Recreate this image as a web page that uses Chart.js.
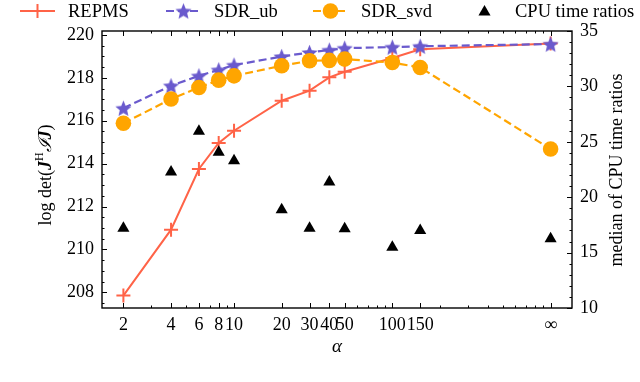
<!DOCTYPE html>
<html>
<head>
<meta charset="utf-8">
<script src="https://cdn.jsdelivr.net/npm/chart.js@4"></script>
<style>
  html, body { margin: 0; padding: 0; background: #fff; }
</style>
</head>
<body>
<canvas id="chart" width="640" height="382"></canvas>
<script>
// ── Data (1000 on the x axis stands for alpha = ∞) ──
const alphaValues = [2, 4, 6, 8, 10, 20, 30, 40, 50, 100, 150, 1000];
const alphaLabels = ['2', '4', '6', '8', '10', '20', '30', '40', '50', '100', '150', '∞'];
const repms    = [207.85, 210.92, 213.75, 214.96, 215.53, 216.93, 217.40, 218.02, 218.28, 218.92, 219.33, 219.60];
const sdrUb    = [216.58, 217.63, 218.09, 218.37, 218.59, 218.99, 219.18, 219.29, 219.38, 219.43, 219.47, 219.57];
const sdrSvd   = [215.88, 217.01, 217.55, 217.89, 218.09, 218.56, 218.79, 218.81, 218.87, 218.71, 218.48, 214.68];
const cpuRatio = [17.20, 22.27, 25.95, 24.05, 23.30, 18.86, 17.20, 21.37, 17.15, 15.49, 17.00, 16.24];
const leftTicks  = [208, 210, 212, 214, 216, 218, 220];
const rightTicks = [10, 15, 20, 25, 30, 35];

const RED = '#FF6347', BLUE = '#6A5ACD', ORANGE = '#FFA500';
const FONT = 'Liberation Serif, DejaVu Serif, serif';

// ── Log x ticks: one per 1..9 step of each decade, plus the labelled alphas ──
const xTickValues = [];
[1, 10, 100].forEach(d => {
    for (let k = 1; k <= 9; k++) if (k * d >= 2) xTickValues.push(k * d);
});
xTickValues.push(1000);
alphaValues.forEach(v => { if (!xTickValues.includes(v)) xTickValues.push(v); });
xTickValues.sort((a, b) => a - b);

// ── Filled five-point star marker ──
function makeStar(r, color) {
    const c = document.createElement('canvas');
    const s = Math.ceil(r * 2 + 2);
    c.width = s; c.height = s;
    const g = c.getContext('2d');
    g.fillStyle = color;
    g.beginPath();
    for (let i = 0; i < 10; i++) {
        const rr = i % 2 ? r * 0.45 : r;
        const a = -Math.PI / 2 + i * Math.PI / 5;
        g.lineTo(s / 2 + rr * Math.cos(a), s / 2 + rr * Math.sin(a) + 0.8);
    }
    g.closePath();
    g.fill();
    return c;
}
const starImg = makeStar(8.5, BLUE);

const pts = ys => alphaValues.map((x, i) => ({ x, y: ys[i] }));

// ── Marker for the hand drawn legend ──
function drawMarker(ctx, kind, x, y) {
    ctx.save();
    if (kind === 'cross') {
        ctx.strokeStyle = RED; ctx.lineWidth = 2;
        ctx.beginPath();
        ctx.moveTo(x - 7, y); ctx.lineTo(x + 7, y);
        ctx.moveTo(x, y - 7); ctx.lineTo(x, y + 7);
        ctx.stroke();
    } else if (kind === 'star') {
        ctx.drawImage(starImg, x - starImg.width / 2, y - starImg.height / 2);
    } else if (kind === 'circle') {
        ctx.fillStyle = ORANGE;
        ctx.beginPath(); ctx.arc(x, y, 7.8, 0, Math.PI * 2); ctx.fill();
    } else {
        ctx.fillStyle = '#000';
        ctx.beginPath();
        for (let i = 0; i < 3; i++) {
            const a = -Math.PI / 2 + i * 2 * Math.PI / 3;
            ctx.lineTo(x + 7 * Math.cos(a), y + 7 * Math.sin(a) + 1);
        }
        ctx.closePath(); ctx.fill();
    }
    ctx.restore();
}

// ── Frame, inward ticks, titles and legend ──
const decorPlugin = {
    id: 'decor',
    afterDraw(chart) {
        const { ctx, chartArea: a, scales } = chart;
        ctx.save();
        ctx.strokeStyle = '#000';
        ctx.lineWidth = 1;
        ctx.beginPath();
        xTickValues.forEach(v => {
            const px = Math.round(scales.x.getPixelForValue(v)) + 0.5;
            const len = alphaValues.includes(v) ? 5 : 2.5;
            ctx.moveTo(px, a.bottom); ctx.lineTo(px, a.bottom - len);
            ctx.moveTo(px, a.top); ctx.lineTo(px, a.top + len);
        });
        for (let v = 207.5; v <= 220; v += 0.5) {
            const py = Math.round(scales.y.getPixelForValue(v)) + 0.5;
            const len = leftTicks.includes(v) ? 5 : 2.5;
            ctx.moveTo(a.left, py); ctx.lineTo(a.left + len, py);
        }
        for (let v = 10; v <= 35; v += 1) {
            const py = Math.round(scales.y1.getPixelForValue(v)) + 0.5;
            const len = rightTicks.includes(v) ? 5 : 2.5;
            ctx.moveTo(a.right, py); ctx.lineTo(a.right - len, py);
        }
        ctx.stroke();
        ctx.lineWidth = 1.4;
        ctx.strokeRect(a.left, a.top, a.right - a.left, a.bottom - a.top);

        // axis titles
        ctx.fillStyle = '#000';
        ctx.textBaseline = 'middle';
        ctx.textAlign = 'center';
        ctx.font = 'italic 19px ' + FONT;
        ctx.fillText('α', (a.left + a.right) / 2, 347);

        ctx.save();
        ctx.translate(617, 170);
        ctx.rotate(-Math.PI / 2);
        ctx.font = '18px ' + FONT;
        ctx.fillText('median of CPU time ratios', 0, 0);
        ctx.restore();

        const parts = [
            ['log det(', '18px ' + FONT, 0],
            ['J', 'bold italic 18px ' + FONT, 0],
            ['H', '12px ' + FONT, -6],
            ['ℐ', 'italic 18px DejaVu Serif, serif', 0],
            ['J', 'bold italic 18px ' + FONT, 0],
            [')', '18px ' + FONT, 0]
        ];
        ctx.save();
        ctx.translate(46, 175);
        ctx.rotate(-Math.PI / 2);
        ctx.textAlign = 'left';
        let total = 0;
        parts.forEach(p => { ctx.font = p[1]; total += ctx.measureText(p[0]).width; });
        let cx = -total / 2;
        parts.forEach(p => {
            ctx.font = p[1];
            ctx.fillText(p[0], cx, p[2]);
            cx += ctx.measureText(p[0]).width;
        });
        ctx.restore();

        // legend
        const items = [
            { text: 'REPMS', x: 20, color: RED, dash: [], marker: 'cross' },
            { text: 'SDR_ub', x: 166, color: BLUE, dash: [8, 4], marker: 'star' },
            { text: 'SDR_svd', x: 313, color: ORANGE, dash: [8, 4], marker: 'circle' },
            { text: 'CPU time ratios', x: 467, color: null, dash: [], marker: 'triangle' }
        ];
        const ly = 11;
        items.forEach(it => {
            if (it.color) {
                ctx.save();
                ctx.strokeStyle = it.color;
                ctx.lineWidth = 2;
                ctx.setLineDash(it.dash);
                ctx.beginPath();
                ctx.moveTo(it.x, ly); ctx.lineTo(it.x + 35, ly);
                ctx.stroke();
                ctx.restore();
            }
            drawMarker(ctx, it.marker, it.x + 17.5, ly);
            ctx.font = '18.5px ' + FONT;
            ctx.textAlign = 'left';
            ctx.fillStyle = '#000';
            ctx.fillText(it.text, it.x + 48, ly + 1);
        });
        ctx.restore();
    }
};

const tickFont = { family: FONT, size: 18 };

new Chart(document.getElementById('chart'), {
    type: 'line',
    data: {
        datasets: [
            {
                label: 'REPMS', data: pts(repms), yAxisID: 'y', order: 4,
                borderColor: RED, backgroundColor: RED, borderWidth: 2,
                pointStyle: 'cross', pointRadius: 7, pointBorderWidth: 2
            },
            {
                label: 'SDR_ub', data: pts(sdrUb), yAxisID: 'y', order: 3,
                borderColor: BLUE, backgroundColor: BLUE, borderWidth: 2.2, borderDash: [8, 4],
                pointStyle: starImg, pointRadius: 8.5
            },
            {
                label: 'SDR_svd', data: pts(sdrSvd), yAxisID: 'y', order: 2,
                borderColor: ORANGE, backgroundColor: ORANGE, borderWidth: 2.2, borderDash: [8, 4],
                pointStyle: 'circle', pointRadius: 7.8, pointBorderWidth: 0
            },
            {
                label: 'CPU time ratios', data: pts(cpuRatio), yAxisID: 'y1', order: 1,
                showLine: false, borderColor: '#000', backgroundColor: '#000',
                pointStyle: 'triangle', pointRadius: 7, pointBorderWidth: 0
            }
        ]
    },
    options: {
        responsive: false,
        animation: false,
        devicePixelRatio: 1,
        layout: { padding: { top: 31, left: 0, right: 0, bottom: 0 } },
        plugins: { legend: { display: false }, tooltip: { enabled: false } },
        scales: {
            x: {
                type: 'logarithmic', min: 1.465, max: 1365,
                grid: { display: false, drawTicks: false }, border: { display: false },
                afterBuildTicks: s => { s.ticks = xTickValues.map(v => ({ value: v })); },
                afterFit: s => { s.height = 74; },
                ticks: {
                    autoSkip: false, maxRotation: 0, minRotation: 0, padding: 6,
                    color: '#000', font: tickFont,
                    callback: v => {
                        const i = alphaValues.indexOf(v);
                        return i >= 0 ? alphaLabels[i] : '';
                    }
                }
            },
            y: {
                position: 'left', min: 207.27, max: 220.18,
                grid: { display: false, drawTicks: false }, border: { display: false },
                afterBuildTicks: s => { s.ticks = leftTicks.map(v => ({ value: v })); },
                afterFit: s => { s.width = 102; },
                ticks: { padding: 8, color: '#000', font: tickFont }
            },
            y1: {
                position: 'right', min: 10, max: 35,
                grid: { display: false, drawTicks: false }, border: { display: false },
                afterBuildTicks: s => { s.ticks = rightTicks.map(v => ({ value: v })); },
                afterFit: s => { s.width = 68; },
                ticks: { padding: 8, color: '#000', font: tickFont }
            }
        }
    },
    plugins: [decorPlugin]
});
</script>
</body>
</html>
